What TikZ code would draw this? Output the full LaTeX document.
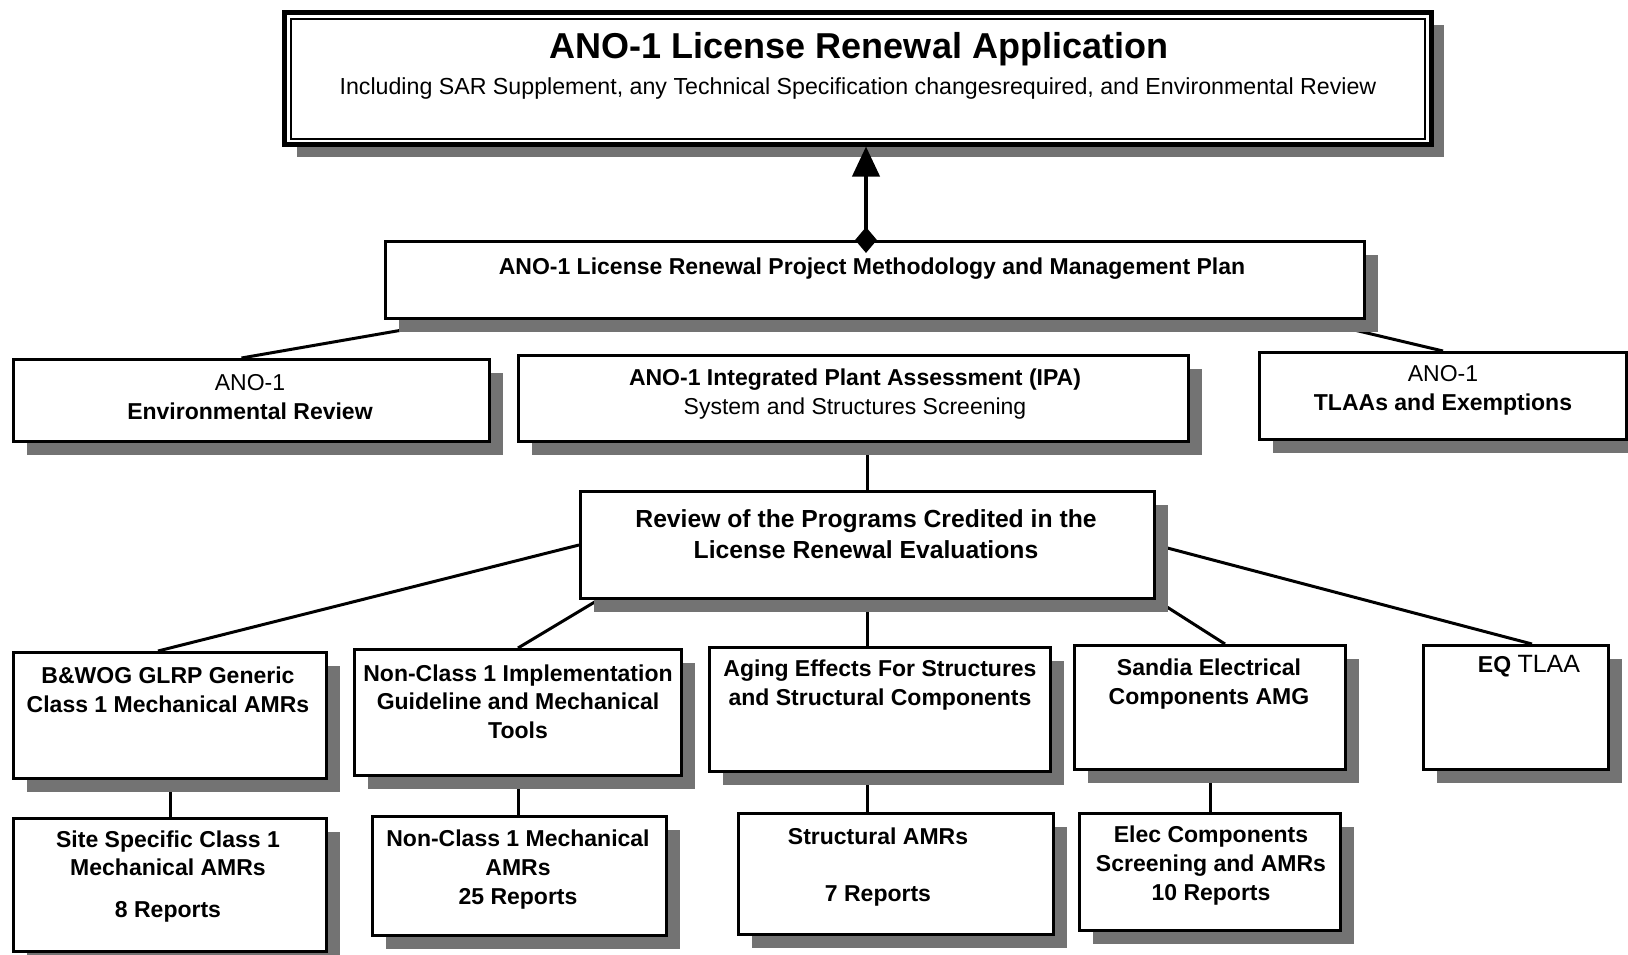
\documentclass[tikz,border=0pt]{standalone}
\usepackage{fontspec}
\setmainfont{Liberation Sans}
\usetikzlibrary{shadows,shapes.geometric,arrows.meta}
\pgfdeclarelayer{bg}
\pgfsetlayers{bg,main}
\begin{document}
\begin{tikzpicture}[x=1pt,y=-1pt,
  box/.style={draw, line width=3pt, fill=white, anchor=north west, inner sep=0pt,
    drop shadow={shadow xshift=13pt, shadow yshift=-13pt, fill=black!55, opacity=1}},
  lbl/.style={font=\fontsize{23}{29}\selectfont, align=center, inner sep=0pt},
  blbl/.style={lbl, font=\bfseries\fontsize{23}{29}\selectfont},
  conn/.style={line width=3pt}]
\useasboundingbox (0,0) rectangle (1628,954);

% boxes
\node[box, line width=4.5pt, minimum width=1147, minimum height=132] (top) at (282,10) {};
\draw[line width=2pt] ([shift={(9,9)}]top.north west) rectangle ([shift={(-9,-8)}]top.south east);
\node[box, minimum width=979, minimum height=77] (meth) at (384,240) {};
\node[box, minimum width=476, minimum height=82] (env) at (12,358) {};
\node[box, minimum width=670, minimum height=86] (ipa) at (517,354) {};
\node[box, minimum width=367, minimum height=87] (tlaa) at (1258,351) {};
\node[box, minimum width=574, minimum height=107] (rev) at (579,490) {};
\node[box, minimum width=313, minimum height=126] (bw) at (12,651) {};
\node[box, minimum width=327, minimum height=126] (impl) at (353,648) {};
\node[box, minimum width=341, minimum height=124] (aging) at (708,646) {};
\node[box, minimum width=271, minimum height=124] (sandia) at (1073,644) {};
\node[box, minimum width=185, minimum height=124] (eq) at (1422,644) {};
\node[box, minimum width=313, minimum height=133] (site) at (12,817) {};
\node[box, minimum width=294, minimum height=119] (nonmech) at (371,815) {};
\node[box, minimum width=315, minimum height=121] (struct) at (737,812) {};
\node[box, minimum width=261, minimum height=117] (elec) at (1078,812) {};

% connectors
\begin{pgfonlayer}{bg}
\draw[conn] ([xshift=76]meth.south west) -- ([xshift=-10]env.north);
\draw[conn] ([xshift=-54]meth.south east) -- (tlaa.north);
\draw[conn] (rev.north |- ipa.south) -- (rev.north);
\draw[conn] (rev.west) -- ([xshift=-12]bw.north);
\draw[conn] ([xshift=19]rev.south west) -- (impl.north);
\draw[conn] (rev.south) -- (rev.south |- aging.north);
\draw[conn] (rev.south east) -- ([xshift=15]sandia.north);
\draw[conn] (rev.east) -- ([xshift=16]eq.north);
\draw[conn] (bw.south) -- (site.north);
\draw[conn] (impl.south) -- (impl.south |- nonmech.north);
\draw[conn] ([xshift=-13]aging.south) -- ([xshift=-13]aging.south |- struct.north);
\draw[conn] (sandia.south) -- (elec.north);
\end{pgfonlayer}

% arrow with diamond
\node[diamond, fill=black, minimum width=22, minimum height=26, inner sep=0pt] (dia) at ([xshift=-9]meth.north) {};
\draw[line width=4pt, -{Triangle[length=30pt,width=27pt]}] (dia.center) -- (dia.center |- top.south);

% texts
\node[lbl, font=\bfseries\fontsize{36}{40}\selectfont] (t1) at (859,49) {ANO-1 License Renewal Application};
\node[lbl, font=\fontsize{23.2}{27}\selectfont] (t2) at (858,88) {Including SAR Supplement, any Technical Specification changesrequired, and Environmental Review};
\node[blbl] (t3) at (872,269) {ANO-1 License Renewal Project Methodology and Management Plan};
\node[lbl] (t4) at (250,397) {ANO-1\\\textbf{Environmental Review}};
\node[lbl] (t5) at (855,394.5) {\textbf{ANO-1 Integrated Plant Assessment (IPA)}\\System and Structures Screening};
\node[lbl] (t6) at (1443,390.5) {ANO-1\\\textbf{TLAAs and Exemptions}};
\node[lbl, font=\bfseries\fontsize{24.7}{31}\selectfont] (t7) at (866,534.5) {Review of the Programs Credited in the\\License Renewal Evaluations};
\node[blbl] (t8) at (168,689.5) {B\&WOG GLRP Generic\\Class 1 Mechanical AMRs};
\node[blbl, font=\bfseries\fontsize{23}{28.5}\selectfont] (t9) at (518,701.5) {Non-Class 1 Implementation\\Guideline and Mechanical\\Tools};
\node[blbl] (t10) at (880,685.5) {Aging Effects For Structures\\and Structural Components};
\node[blbl] (t11) at (1209,684.5) {Sandia Electrical\\Components AMG};
\node[lbl, anchor=center] (t12) at (1529,666) {\textbf{EQ} {\fontsize{25}{29}\selectfont TLAA}};
\node[blbl, font=\bfseries\fontsize{23}{28}\selectfont, anchor=north] (t13) at (168,831) {Site Specific Class 1\\Mechanical AMRs\\[14pt]8 Reports};
\node[blbl] (t14) at (518,870) {Non-Class 1 Mechanical\\AMRs\\25 Reports};
\node[blbl, font=\bfseries\fontsize{23}{57}\selectfont] (t15) at (878,867.5) {Structural AMRs\\7 Reports};
\node[blbl] (t16) at (1211,866) {Elec Components\\Screening and AMRs\\10 Reports};
\end{tikzpicture}
\end{document}
